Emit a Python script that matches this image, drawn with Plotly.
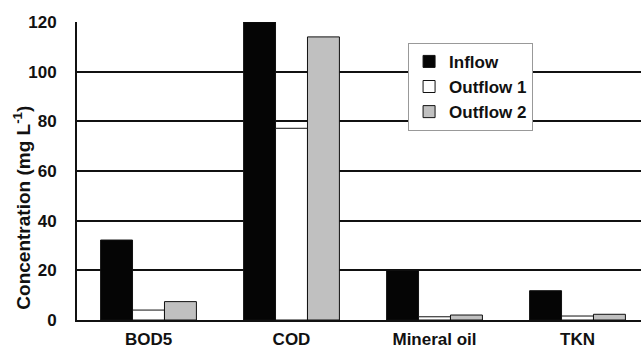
import plotly.graph_objects as go

categories = ["BOD5", "COD", "Mineral oil", "TKN"]
inflow = [32.2, 120, 20, 11.8]
outflow1 = [4.0, 77.2, 1.3, 1.6]
outflow2 = [7.4, 114, 2.0, 2.3]
yticks = [0, 20, 40, 60, 80, 100, 120]
ytitle = "Concentration (mg L<sup>-1</sup>)"

FONT = "Liberation Sans, Arial, sans-serif"

fig = go.Figure()
fig.add_trace(go.Bar(name="Inflow", x=categories, y=inflow,
                     marker=dict(color="#050505", line=dict(color="#111111", width=1))))
fig.add_trace(go.Bar(name="Outflow 1", x=categories, y=outflow1,
                     marker=dict(color="#ffffff", line=dict(color="#111111", width=1))))
fig.add_trace(go.Bar(name="Outflow 2", x=categories, y=outflow2,
                     marker=dict(color="#c0c0c0", line=dict(color="#111111", width=1))))

fig.update_layout(
    width=641, height=348,
    margin=dict(l=77, r=0, t=22, b=28, autoexpand=False),
    paper_bgcolor="white", plot_bgcolor="white",
    barmode="group", bargap=0.33, bargroupgap=0,
    font=dict(family=FONT, size=16, color="#111111"),
    showlegend=True,
    legend=dict(x=0.587, y=0.93, xanchor="left", yanchor="top",
                bgcolor="white", bordercolor="#999999", borderwidth=1,
                font=dict(family=FONT, size=17, color="#111111", weight="bold"),
                tracegroupgap=0, itemwidth=30),
    annotations=[dict(text=ytitle, textangle=-90, xref="paper", yref="paper",
                      x=-0.097, y=0.378, xanchor="center", yanchor="middle",
                      showarrow=False,
                      font=dict(family=FONT, size=19, color="#111111", weight="bold"))],
)
fig.update_xaxes(range=[-0.5, 3.444], showline=True, linecolor="#111111", linewidth=2,
                 ticks="", ticklabelstandoff=3, automargin=False,
                 tickfont=dict(family=FONT, size=17, weight="bold"),
                 showgrid=False, mirror=False)
fig.update_yaxes(range=[0, 120], tickvals=yticks, showline=True, linecolor="#111111", linewidth=2,
                 showgrid=True, gridcolor="#111111", gridwidth=1.5, zeroline=False,
                 ticks="", ticklabelstandoff=15, automargin=False,
                 tickfont=dict(family=FONT, size=17, weight="bold"))

fig.write_html("out.html", config={"displayModeBar": False},
               post_script="document.body.style.margin='0';")
